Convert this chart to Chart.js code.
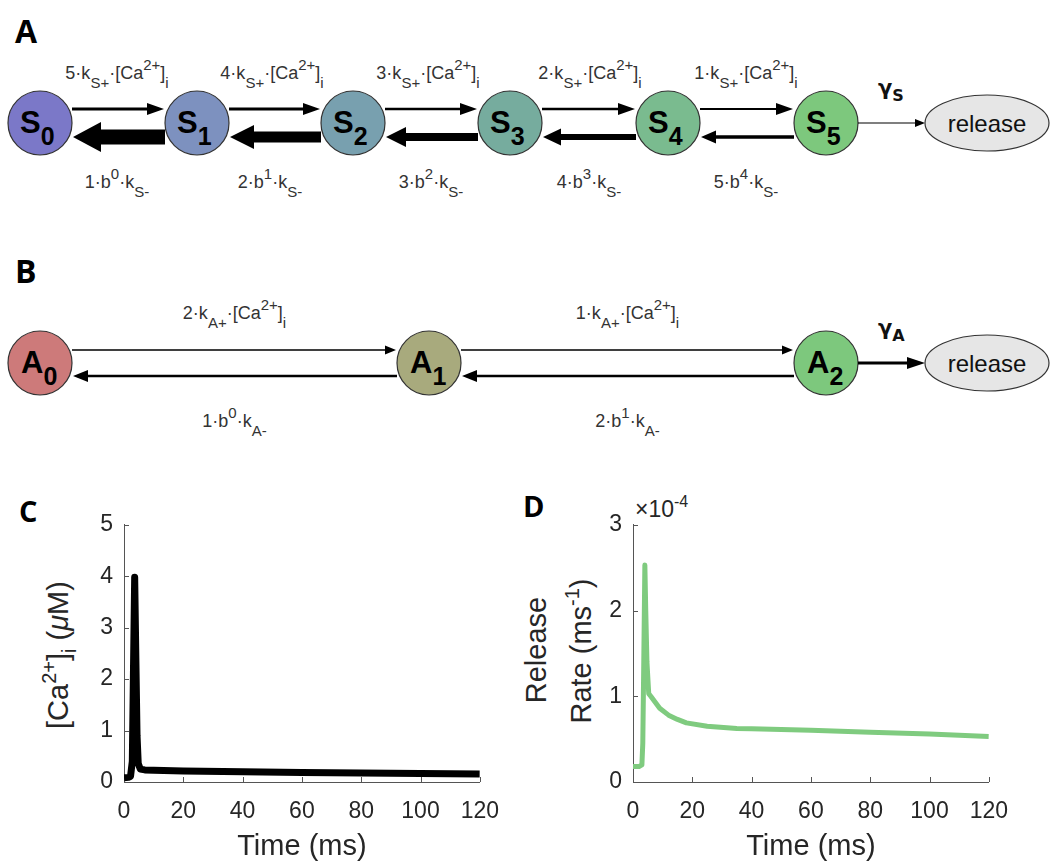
<!DOCTYPE html>
<html>
<head>
<meta charset="utf-8">
<script src="https://cdn.jsdelivr.net/npm/chart.js@4.4.1/dist/chart.umd.min.js"></script>
<style>
  body { margin: 0; background: #fff; }
  #fig { position: relative; width: 1055px; height: 865px; overflow: hidden; background: #fff; }
  #fig svg { position: absolute; left: 0; top: 0; }
  #fig canvas { position: absolute; }
  text { white-space: pre; }
</style>
</head>
<body>
<div id="fig">
  <svg id="overlay" width="1055" height="865" xmlns="http://www.w3.org/2000/svg"></svg>
  <canvas id="caChart" width="455" height="365" style="left:60px;top:500px"></canvas>
  <canvas id="rateChart" width="454" height="365" style="left:570px;top:500px"></canvas>
</div>
<script>
// Panel C: intracellular calcium transient (uM)
const caTime = [0, 1.5, 2.2, 2.8, 3.2, 3.6, 4.0, 4.4, 4.8, 5.5, 7, 10, 20, 40, 60, 80, 100, 120];
const caConc = [0.08, 0.09, 0.11, 0.4, 2.2, 3.98, 2.4, 0.9, 0.36, 0.25, 0.235, 0.23, 0.215, 0.2, 0.185, 0.175, 0.165, 0.155];

// Panel D: release rate (x 10^-4 ms^-1)
const relTime = [0, 2, 3, 3.3, 3.6, 4.0, 4.3, 4.7, 5.3, 6, 9, 12, 15, 18, 25, 35, 40, 60, 80, 100, 120];
const relRate = [0.18, 0.18, 0.2, 0.45, 1.3, 2.53, 2.0, 1.4, 1.03, 1.0, 0.86, 0.78, 0.73, 0.69, 0.65, 0.625, 0.62, 0.605, 0.58, 0.56, 0.53];

// tick labels
const timeTicks = [0, 20, 40, 60, 80, 100, 120];
const caTicks = [0, 1, 2, 3, 4, 5];
const rateTicks = [0, 1, 2, 3];

const NS = 'http://www.w3.org/2000/svg';
const svg = document.getElementById('overlay');
const FONT = '"Liberation Sans", Arial, sans-serif';
const LETTER_FONT = '"Open Sans", "Liberation Sans", sans-serif';

function el(name, attrs, parent) {
    const e = document.createElementNS(NS, name);
    for (const k in attrs) e.setAttribute(k, attrs[k]);
    (parent || svg).appendChild(e);
    return e;
}

// text with sub/superscripts: parts are strings or [kind, text], kind '^', '_' or 'it'
function rich(x, y, parts, o) {
    const t = el('text', {
        x: x, y: y, 'font-family': o.family || FONT, 'font-size': o.size,
        'font-weight': o.weight || 'normal', fill: o.fill || '#333',
        'text-anchor': o.anchor || 'middle'
    });
    if (o.transform) t.setAttribute('transform', o.transform);
    let off = 0;
    parts.forEach(p => {
        const ts = document.createElementNS(NS, 'tspan');
        let target = 0, txt = p, fs = o.size;
        if (Array.isArray(p)) {
            txt = p[1];
            if (p[0] === '^') { target = -o.sup; fs = o.small; }
            else if (p[0] === '_') { target = o.sub; fs = o.small; }
            else if (p[0] === 'it') { ts.setAttribute('font-style', 'italic'); }
        }
        if (target !== off) ts.setAttribute('dy', target - off);
        off = target;
        ts.setAttribute('font-size', fs);
        ts.textContent = txt;
        t.appendChild(ts);
    });
    return t;
}

function arrow(x1, x2, y, shaft, headW, headL, fill) {
    const dir = x2 > x1 ? 1 : -1;
    const xb = x2 - dir * headL;
    const pts = [
        [x1, y - shaft / 2], [xb, y - shaft / 2], [xb, y - headW / 2], [x2, y],
        [xb, y + headW / 2], [xb, y + shaft / 2], [x1, y + shaft / 2]
    ].map(p => p.join(',')).join(' ');
    el('polygon', { points: pts, fill: fill || '#000' });
}

function node(cx, cy, color, letter, idx, letterDx) {
    el('circle', { cx: cx, cy: cy, r: 32, fill: color, stroke: '#333', 'stroke-width': 1.2 });
    rich(cx + letterDx, cy + 10, [letter, ['_', idx]], {
        size: 31, small: 25, sub: 12, sup: 0, weight: 'bold', fill: '#000', anchor: 'start'
    });
}

function releaseNode(cx, cy) {
    el('ellipse', { cx: cx, cy: cy, rx: 62, ry: 28, fill: '#e6e6e6', stroke: '#333', 'stroke-width': 1.2 });
    el('text', { x: cx, y: cy + 9, 'font-family': FONT, 'font-size': 24, fill: '#111', 'text-anchor': 'middle' })
        .textContent = 'release';
}

const label = { size: 18, small: 15, sub: 9, sup: 9 };
const gamma = { size: 21, small: 16, sub: 6, sup: 0, fill: '#111', anchor: 'start', family: '"DejaVu Sans", sans-serif', weight: 'bold' };

// ---- Panel A ----
rich(15, 43, ['A'], { size: 32, weight: 'bold', family: LETTER_FONT, fill: '#000', anchor: 'start' });
const sX = [40, 197, 353, 510, 668, 826];
const sColors = ['#7b78c8', '#7d91bf', '#78a0af', '#76ac9e', '#7abb8f', '#7dc87d'];
const cyA = 123;
const fwdW = [3, 2.8, 2.6, 2.3, 2];
const bwdShaft = [15, 11, 8, 6, 3.5];
const bwdHeadW = [30, 24, 20, 17, 13];
const bwdHeadL = [28, 24, 20, 18, 15];
const topCx = [117, 272, 428, 590, 746];
const botCx = [117, 270, 431, 589, 746];
for (let i = 0; i < 5; i++) {
    arrow(sX[i] + 32, sX[i + 1] - 33, cyA - 14, fwdW[i], 12, 17);
    arrow(sX[i + 1] - 32, sX[i] + 33, cyA + 14, bwdShaft[i], bwdHeadW[i], bwdHeadL[i]);
    rich(topCx[i], 79, [(5 - i) + '·k', ['_', 'S+'], '·[Ca', ['^', '2+'], ']', ['_', 'i']], label);
    rich(botCx[i], 188, [(i + 1) + '·b', ['^', String(i)], '·k', ['_', 'S-']], label);
}
sX.forEach((x, i) => node(x, cyA, sColors[i], 'S', String(i), -20));
arrow(858, 925, cyA, 1.2, 8, 10);
rich(878, 95, ['γ', ['_', 'S']], gamma);
releaseNode(987, cyA);

// ---- Panel B ----
rich(15, 283, ['B'], { size: 32, weight: 'bold', family: LETTER_FONT, fill: '#000', anchor: 'start' });
const aX = [40, 429, 826];
const aColors = ['#cd7a7a', '#a8aa7d', '#7dc87d'];
const cyB = 363;
for (let i = 0; i < 2; i++) {
    arrow(aX[i] + 32, aX[i + 1] - 33, cyB - 13, 1.3, 9, 11);
    arrow(aX[i + 1] - 32, aX[i] + 33, cyB + 13, 2.5, 12, 15);
    const mid = (aX[i] + aX[i + 1]) / 2;
    rich(mid, 319, [(2 - i) + '·k', ['_', 'A+'], '·[Ca', ['^', '2+'], ']', ['_', 'i']], label);
    rich(mid, 427, [(i + 1) + '·b', ['^', String(i)], '·k', ['_', 'A-']], label);
}
aX.forEach((x, i) => node(x, cyB, aColors[i], 'A', String(i), -19));
arrow(858, 925, cyB, 3, 12, 18);
rich(878, 335, ['γ', ['_', 'A']], gamma);
releaseNode(987, cyB);

// ---- Panel letters and rich axis titles for C, D ----
rich(19, 522, ['C'], { size: 29, weight: 'bold', family: LETTER_FONT, fill: '#000', anchor: 'start' });
rich(523, 517, ['D'], { size: 29, weight: 'bold', family: LETTER_FONT, fill: '#000', anchor: 'start' });

const axisTitle = { size: 29, small: 20, sub: 8, sup: 12, fill: '#262626' };
rich(0, 0, ['[Ca', ['^', '2+'], ']', ['_', 'i'], ' (', ['it', 'μ'], 'M)'],
    Object.assign({ transform: 'translate(68,655) rotate(-90)' }, axisTitle));
rich(0, 0, ['Release'], Object.assign({ transform: 'translate(546,650) rotate(-90)' }, axisTitle));
rich(0, 0, ['Rate (ms', ['^', '-1'], ')'], Object.assign({ transform: 'translate(591,651) rotate(-90)' }, axisTitle));
rich(635, 517, ['×10', ['^', '-4']], { size: 23, small: 16, sub: 0, sup: 10, fill: '#262626', anchor: 'start' });

// ---- Charts ----
const TICK_COLOR = '#262626';
const AXIS_COLOR = '#555';

// MATLAB-style ticks pointing into the axes
const inwardTicks = {
    id: 'inwardTicks',
    beforeDatasetsDraw(chart) {
        const { ctx, chartArea, scales: { x, y } } = chart;
        ctx.save();
        ctx.strokeStyle = AXIS_COLOR;
        ctx.lineWidth = 1;
        x.ticks.forEach(t => {
            const px = Math.round(x.getPixelForValue(t.value)) + 0.5;
            ctx.beginPath(); ctx.moveTo(px, chartArea.bottom); ctx.lineTo(px, chartArea.bottom - 5); ctx.stroke();
        });
        y.ticks.forEach(t => {
            const py = Math.round(y.getPixelForValue(t.value)) + 0.5;
            ctx.beginPath(); ctx.moveTo(chartArea.left, py); ctx.lineTo(chartArea.left + 5, py); ctx.stroke();
        });
        ctx.restore();
    }
};

function makeChart(id, xs, ys, color, width, yMax, yTicks, yWidth) {
    return new Chart(document.getElementById(id), {
        type: 'line',
        data: {
            datasets: [{
                data: xs.map((t, i) => ({ x: t, y: ys[i] })),
                borderColor: color,
                borderWidth: width,
                pointRadius: 0,
                tension: 0,
                borderJoinStyle: 'round',
                borderCapStyle: 'butt'
            }]
        },
        options: {
            responsive: false,
            animation: false,
            layout: { padding: { top: 24, right: 30, left: 0, bottom: 0 } },
            plugins: { legend: { display: false }, tooltip: { enabled: false } },
            scales: {
                x: {
                    type: 'linear', min: 0, max: 120,
                    afterBuildTicks: s => { s.ticks = timeTicks.map(v => ({ value: v })); },
                    afterFit: s => { s.height = 83; },
                    ticks: { color: TICK_COLOR, font: { family: FONT, size: 23 }, padding: 16, maxRotation: 0 },
                    grid: { display: false, drawTicks: false },
                    border: { color: AXIS_COLOR, width: 1 },
                    title: { display: true, text: 'Time (ms)', color: TICK_COLOR, font: { family: FONT, size: 29 }, padding: { top: 0, bottom: 1 } }
                },
                y: {
                    type: 'linear', min: 0, max: yMax,
                    afterBuildTicks: s => { s.ticks = yTicks.map(v => ({ value: v })); },
                    afterFit: s => { s.width = yWidth; },
                    ticks: { color: TICK_COLOR, font: { family: FONT, size: 23 }, padding: 11 },
                    grid: { display: false, drawTicks: false },
                    border: { color: AXIS_COLOR, width: 1 }
                }
            }
        },
        plugins: [inwardTicks]
    });
}

makeChart('caChart', caTime, caConc, '#000', 7, 5, caTicks, 64);
makeChart('rateChart', relTime, relRate, '#7fcb7f', 5, 3, rateTicks, 63);
</script>
</body>
</html>
